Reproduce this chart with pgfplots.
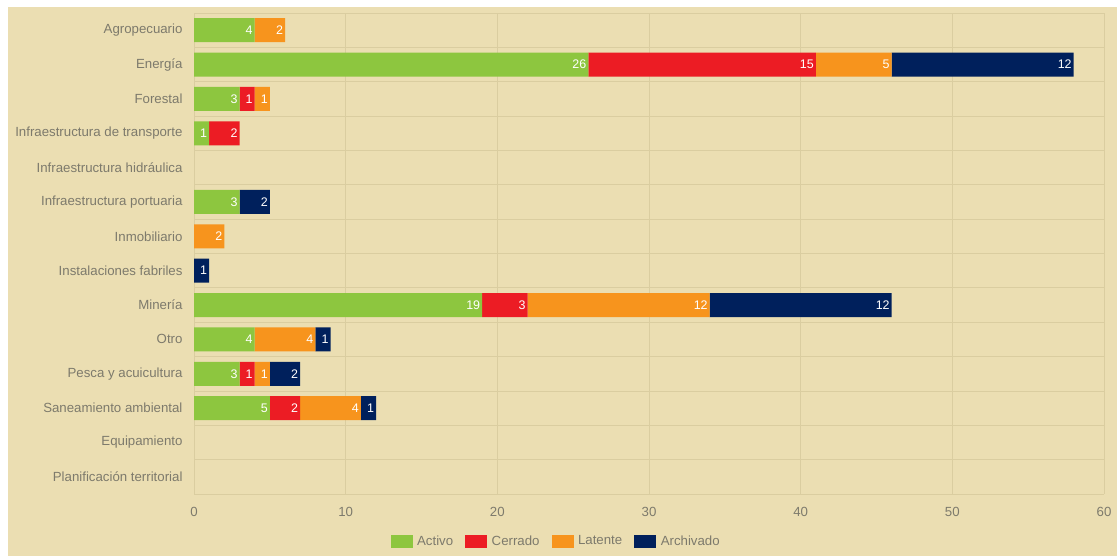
\documentclass[border=0pt]{standalone}
\usepackage{pgfplots}
\pgfplotsset{compat=1.18}
\usepackage{fontspec}
\setmainfont{Liberation Sans}
\definecolor{bg}{RGB}{235,222,178}
\definecolor{gridc}{RGB}{218,205,160}
\definecolor{txt}{RGB}{125,122,108}
\definecolor{cgreen}{RGB}{141,198,63}
\definecolor{cred}{RGB}{236,28,36}
\definecolor{corange}{RGB}{247,148,29}
\definecolor{cnavy}{RGB}{0,32,92}
\newdimen\segunit
\segunit=15.16667bp
\begin{document}
\begin{tikzpicture}
\useasboundingbox (0bp,0bp) rectangle (1117bp,556bp);
\fill[white] (0bp,0bp) rectangle (1117bp,556bp);
\fill[bg] (8bp,0bp) rectangle (1117bp,549bp);
\begin{axis}[
  at={(194bp,62bp)}, anchor=south west,
  scale only axis, width=910bp, height=481bp,
  xbar stacked, bar width=24bp,
  xmin=0, xmax=60, xtick={0,10,...,60},
  ymin=-0.5, ymax=13.5, y dir=reverse,
  ytick={0,...,13},
  yticklabels={Agropecuario,Energía,Forestal,Infraestructura de transporte,Infraestructura hidráulica,Infraestructura portuaria,Inmobiliario,Instalaciones fabriles,Minería,Otro,Pesca y acuicultura,Saneamiento ambiental,Equipamiento,Planificación territorial},
  minor ytick={-0.5,0.5,...,13.5},
  major tick length=0, minor tick length=0,
  xmajorgrids, yminorgrids,
  grid style={gridc, line width=0.8bp},
  minor grid style={gridc, line width=0.8bp},
  axis line style={draw=none},
  /pgf/number format/assume math mode=true,
  tick label style={font=\fontsize{13.3}{15}\selectfont, text=txt},
  yticklabel style={xshift=-8bp},
  xticklabel style={yshift=-10bp},
  point meta=explicit,
  nodes near coords={\pgfmathfloatifflags{\pgfplotspointmeta}{0}{}{\pgfmathfloattofixed{\pgfplotspointmeta}\edef\segv{\pgfmathresult}\makebox[\segv\segunit][r]{\pgfmathprintnumber{\pgfplotspointmeta}\hspace*{2bp}}}},
  every node near coord/.append style={anchor=center, inner sep=0pt, font=\fontsize{12.5}{14}\selectfont, text=white},
  legend columns=4,
  legend style={draw=none, fill=none, at={(0.398,-0.098)}, anchor=center,
    font=\fontsize{13.3}{15}\selectfont, text=txt,
    /tikz/every odd column/.append style={column sep=2.5bp},
    /tikz/every even column/.append style={column sep=10bp}},
  legend image code/.code={\fill[#1] (0bp,-6.5bp) rectangle (22bp,6.5bp);},
]
\addplot[fill=cgreen, draw=none] coordinates {(4,0) [4] (26,1) [26] (3,2) [3] (1,3) [1] (0,4) [0] (3,5) [3] (0,6) [0] (0,7) [0] (19,8) [19] (4,9) [4] (3,10) [3] (5,11) [5] (0,12) [0] (0,13) [0]};
\addplot[fill=cred, draw=none] coordinates {(0,0) [0] (15,1) [15] (1,2) [1] (2,3) [2] (0,4) [0] (0,5) [0] (0,6) [0] (0,7) [0] (3,8) [3] (0,9) [0] (1,10) [1] (2,11) [2] (0,12) [0] (0,13) [0]};
\addplot[fill=corange, draw=none] coordinates {(2,0) [2] (5,1) [5] (1,2) [1] (0,3) [0] (0,4) [0] (0,5) [0] (2,6) [2] (0,7) [0] (12,8) [12] (4,9) [4] (1,10) [1] (4,11) [4] (0,12) [0] (0,13) [0]};
\addplot[fill=cnavy, draw=none] coordinates {(0,0) [0] (12,1) [12] (0,2) [0] (0,3) [0] (0,4) [0] (2,5) [2] (0,6) [0] (1,7) [1] (12,8) [12] (1,9) [1] (2,10) [2] (1,11) [1] (0,12) [0] (0,13) [0]};
\legend{Activo,Cerrado,Latente,Archivado}
\end{axis}
\end{tikzpicture}
\end{document}
